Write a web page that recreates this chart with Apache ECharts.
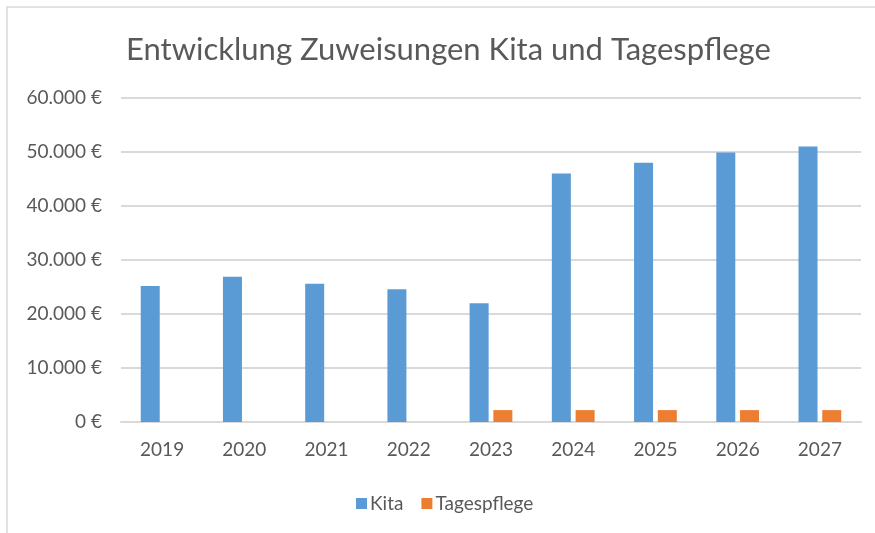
<!DOCTYPE html>
<html>
<head>
<meta charset="utf-8">
<script src="https://cdn.jsdelivr.net/npm/echarts@6/dist/echarts.min.js"></script>
<style>
  html, body { margin: 0; padding: 0; background: #fff; }
  #chart { width: 875px; height: 533px; }
</style>
</head>
<body>
<div id="chart"></div>
<script>
  // Daten
  const years = ['2019', '2020', '2021', '2022', '2023', '2024', '2025', '2026', '2027'];
  const kita = [25200, 26900, 25600, 24600, 22000, 46000, 48000, 49900, 51000];
  const tagespflege = [0, 0, 0, 0, 2200, 2200, 2200, 2200, 2200];
  const seriesNames = ['Kita', 'Tagespflege'];

  const textColor = '#595959';
  const fontFam = 'Lato, "Open Sans", sans-serif';

  function euro(v) {
    return String(v).replace(/\B(?=(\d{3})+(?!\d))/g, '.') + ' €';
  }

  const myChart = echarts.init(document.getElementById('chart'), null, { renderer: 'canvas' });
  const option = {
    backgroundColor: '#fff',
    animation: false,
    color: ['#5B9BD5', '#ED7D31'],
    graphic: [{
      type: 'rect',
      shape: { x: 7, y: 7, width: 900, height: 600 },
      style: { fill: 'none', stroke: '#d9d9d9', lineWidth: 1.5 },
      silent: true
    }],
    title: {
      text: 'Entwicklung Zuweisungen Kita und Tagespflege',
      left: 121,
      top: 29,
      textStyle: { color: textColor, fontFamily: fontFam, fontSize: 31, fontWeight: 'normal' }
    },
    legend: {
      data: seriesNames,
      left: 351,
      top: 489,
      icon: 'rect',
      itemWidth: 11,
      itemHeight: 11,
      itemGap: 18,
      textStyle: { color: textColor, fontFamily: fontFam, fontSize: 19, padding: [0, 0, 0, -2] }
    },
    grid: { left: 121, right: 14, top: 98, bottom: 111, containLabel: false },
    xAxis: {
      type: 'category',
      data: years,
      axisLine: { show: true, lineStyle: { color: '#d9d9d9', width: 2 } },
      axisTick: { show: false },
      axisLabel: { color: textColor, fontFamily: fontFam, fontSize: 19, margin: 18 }
    },
    yAxis: {
      type: 'value',
      min: 0,
      max: 60000,
      interval: 10000,
      axisLine: { show: false },
      axisTick: { show: false },
      splitLine: { lineStyle: { color: '#d9d9d9', width: 2 } },
      axisLabel: { color: textColor, fontFamily: fontFam, fontSize: 19, margin: 19, formatter: euro }
    },
    series: [
      {
        name: 'Kita',
        type: 'bar',
        data: kita,
        barWidth: 19,
        barGap: '25%'
      },
      {
        name: 'Tagespflege',
        type: 'bar',
        data: tagespflege,
        barWidth: 19,
        barGap: '25%'
      }
    ]
  };
  myChart.setOption(option);
</script>
</body>
</html>
